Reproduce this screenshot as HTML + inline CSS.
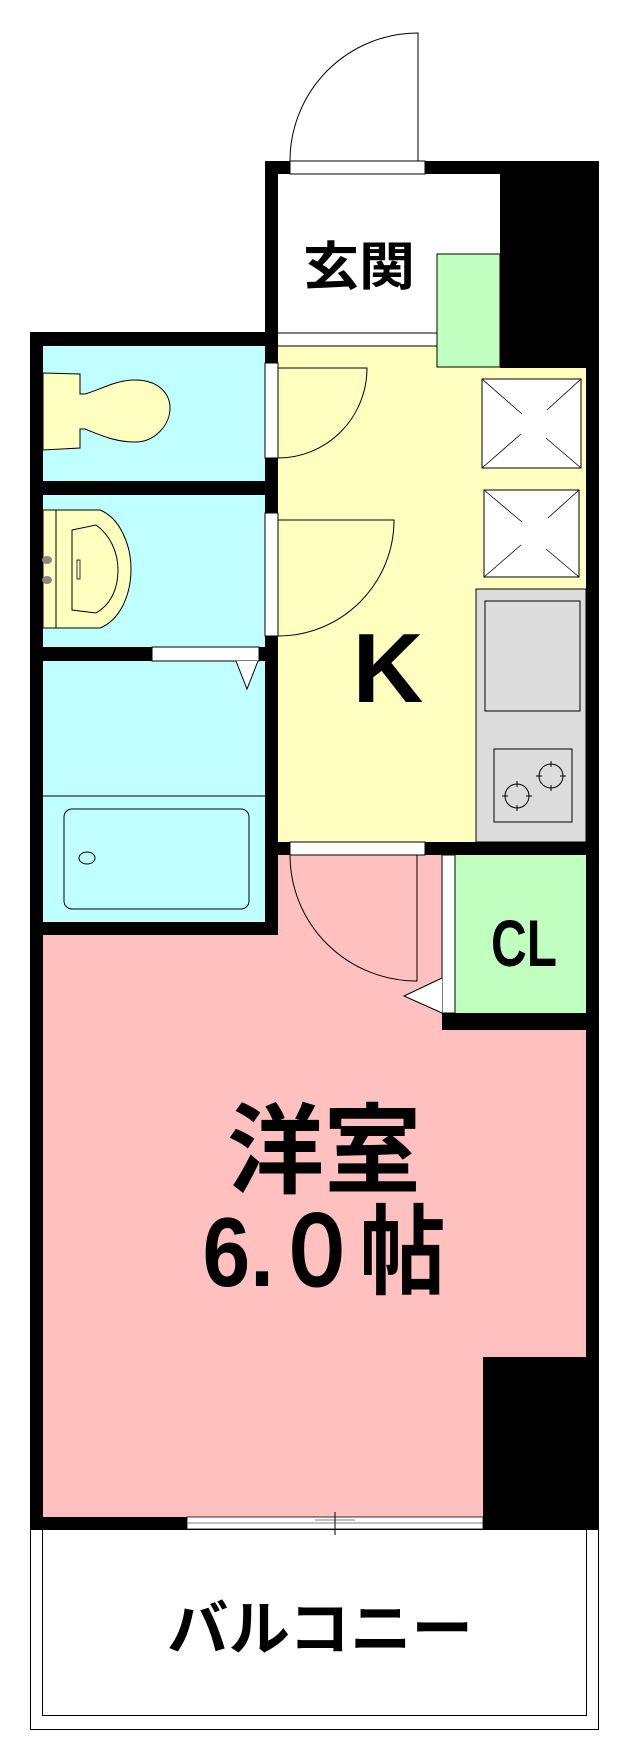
<!DOCTYPE html>
<html><head><meta charset="utf-8"><style>
html,body{margin:0;padding:0;background:#fff;}
svg{display:block;}
text{font-family:"Liberation Sans","Noto Sans CJK JP",sans-serif;font-weight:bold;fill:#000;}
</style></head><body>
<svg width="644" height="1762" viewBox="0 0 644 1762" xmlns="http://www.w3.org/2000/svg">
<!-- entrance door -->
<path d="M290,161 A128,128 0 0 1 418,33 L418,161" fill="none" stroke="#000" stroke-width="1"/>
<!-- genkan -->
<rect x="265" y="161" width="334" height="185" fill="#000"/>
<rect x="278" y="174" width="222" height="172" fill="#fff"/>
<rect x="290" y="161" width="135" height="13" fill="#fff" stroke="#000" stroke-width="1"/>
<rect x="437" y="254" width="63" height="113" fill="#c0ffc0" stroke="#000" stroke-width="1"/>
<line x1="278" y1="333" x2="437" y2="333" stroke="#000"/>
<!-- left block walls -->
<rect x="30" y="332" width="248" height="603" fill="#000"/>
<rect x="43" y="346" width="222" height="135" fill="#c0ffff"/>
<rect x="43" y="495" width="222" height="152" fill="#c0ffff"/>
<rect x="43" y="661" width="222" height="261" fill="#c0ffff"/>
<rect x="152" y="647" width="107" height="14" fill="#fff" stroke="#000" stroke-width="1"/>
<path d="M236,661 L247,689 L258,661" fill="#fff" stroke="#000" stroke-width="1"/>
<line x1="43" y1="796" x2="265" y2="796" stroke="#000"/>
<rect x="64" y="809" width="185" height="100" rx="8" fill="none" stroke="#000"/>
<ellipse cx="87" cy="858" rx="8" ry="6" fill="none" stroke="#000"/>
<!-- toilet -->
<path d="M43,373 L80,374 L80,394 L85,394 C100,390 115,380 135,380 C160,380 170,395 170,408 C170,425 155,442 135,442 C115,442 100,435 85,429 L80,429 L80,448 L43,450 Z" fill="#ffffc0" stroke="#000"/>
<!-- sink -->
<path d="M43,510 L100,510 C120,518 131,545 131,569 C131,595 120,620 100,628 L43,628 Z" fill="#ffffc0" stroke="#000"/>
<line x1="56" y1="510" x2="56" y2="628" stroke="#000"/>
<path d="M72,530 L96,525 C110,535 118,552 118,570 C118,590 110,605 96,613 L72,610 Z" fill="none" stroke="#000"/>
<rect x="77" y="560" width="3" height="19" fill="none" stroke="#000" stroke-width="0.8"/>
<ellipse cx="47" cy="560" rx="5" ry="4" fill="#888"/>
<ellipse cx="47" cy="580" rx="5" ry="4" fill="#888"/>
<!-- kitchen -->
<rect x="278" y="346" width="308" height="496" fill="#ffffc0"/>
<rect x="500" y="161" width="99" height="207" fill="#000"/>
<rect x="437" y="254" width="63" height="113" fill="#c0ffc0" stroke="#000" stroke-width="1"/>
<line x1="278" y1="346" x2="437" y2="346" stroke="#000"/>
<rect x="586" y="161" width="13" height="1368" fill="#000"/>
<!-- toilet doors -->
<rect x="265" y="363" width="13" height="95" fill="#fff" stroke="#000" stroke-width="1"/>
<rect x="265" y="513" width="13" height="123" fill="#fff" stroke="#000" stroke-width="1"/>
<path d="M278,368 L367,368 A89,90 0 0 1 278,458" fill="none" stroke="#000"/>
<path d="M278,520 L394,520 A116,116 0 0 1 278,636" fill="none" stroke="#000"/>
<!-- appliance boxes -->
<g fill="#fff" stroke="#000" stroke-width="1">
<rect x="482" y="379" width="99" height="89"/>
<rect x="484" y="490" width="95" height="87"/>
</g>
<g stroke="#000" stroke-width="0.8">
<line x1="482" y1="379" x2="522" y2="414"/><line x1="581" y1="379" x2="547" y2="410"/>
<line x1="482" y1="468" x2="521" y2="434"/><line x1="581" y1="468" x2="546" y2="438"/>
<line x1="484" y1="490" x2="522" y2="522"/><line x1="579" y1="490" x2="548" y2="518"/>
<line x1="484" y1="577" x2="521" y2="545"/><line x1="579" y1="577" x2="546" y2="549"/>
</g>
<rect x="476" y="589" width="110" height="253" fill="#dcdcdc" stroke="#000" stroke-width="1"/>
<rect x="485" y="601" width="95" height="110" fill="#dcdcdc" stroke="#000"/>
<rect x="494" y="749" width="78" height="73" fill="#dcdcdc" stroke="#000"/>
<g fill="none" stroke="#000"><circle cx="551" cy="776" r="12"/><circle cx="517" cy="796" r="12"/>
<path d="M551,761v6M551,785v6M536,776h6M560,776h6M517,781v6M517,805v6M502,796h6M526,796h6"/></g>
<text x="388" y="702" font-size="98" text-anchor="middle">K</text>
<text x="359" y="285" font-size="52" text-anchor="middle" textLength="112" lengthAdjust="spacingAndGlyphs">玄関</text>
<!-- kitchen/room wall -->
<rect x="265" y="842" width="334" height="13" fill="#000"/>
<!-- western room -->
<rect x="30" y="922" width="13" height="607" fill="#000"/>
<rect x="43" y="935" width="543" height="582" fill="#ffc0c0"/>
<rect x="278" y="855" width="308" height="80" fill="#ffc0c0"/>
<rect x="30" y="922" width="248" height="13" fill="#000"/>
<rect x="265" y="842" width="13" height="93" fill="#000"/>
<rect x="290" y="842" width="135" height="13" fill="#fff" stroke="#000" stroke-width="1"/>
<path d="M290,855 A127,126 0 0 0 417,981 L417,855" fill="none" stroke="#000"/>
<!-- CL -->
<rect x="442" y="855" width="157" height="175" fill="#000"/>
<rect x="455" y="855" width="131" height="158" fill="#c0ffc0"/>
<rect x="442" y="855" width="13" height="158" fill="#fff" stroke="#000" stroke-width="1"/>
<path d="M442,978 L404,996 L442,1013" fill="#fff" stroke="#000" stroke-width="1"/>
<text x="524" y="966" font-size="66" text-anchor="middle" textLength="66" lengthAdjust="spacingAndGlyphs">CL</text>
<text x="324" y="1185" font-size="98" text-anchor="middle" textLength="194" lengthAdjust="spacingAndGlyphs">洋室</text>
<text x="324" y="1286" font-size="98" text-anchor="middle" textLength="243" lengthAdjust="spacingAndGlyphs">6.０帖</text>
<!-- bottom right block -->
<rect x="483" y="1357" width="116" height="172" fill="#000"/>
<!-- bottom wall and window -->
<rect x="30" y="1517" width="157" height="12" fill="#000"/>
<rect x="187" y="1517" width="296" height="12" fill="#fff" stroke="#000" stroke-width="0.8"/>
<line x1="187" y1="1523" x2="483" y2="1523" stroke="#000" stroke-width="0.6"/>
<line x1="335" y1="1512" x2="335" y2="1535" stroke="#000"/>
<line x1="315" y1="1520" x2="355" y2="1520" stroke="#000" stroke-width="0.6"/>
<!-- balcony -->
<rect x="30.5" y="1529.5" width="568" height="200" fill="none" stroke="#000"/>
<rect x="42.5" y="1529.5" width="544" height="186" fill="none" stroke="#000"/>
<text x="320" y="1650" font-size="60" text-anchor="middle" textLength="306" lengthAdjust="spacingAndGlyphs">バルコニー</text>
</svg>
</body></html>
